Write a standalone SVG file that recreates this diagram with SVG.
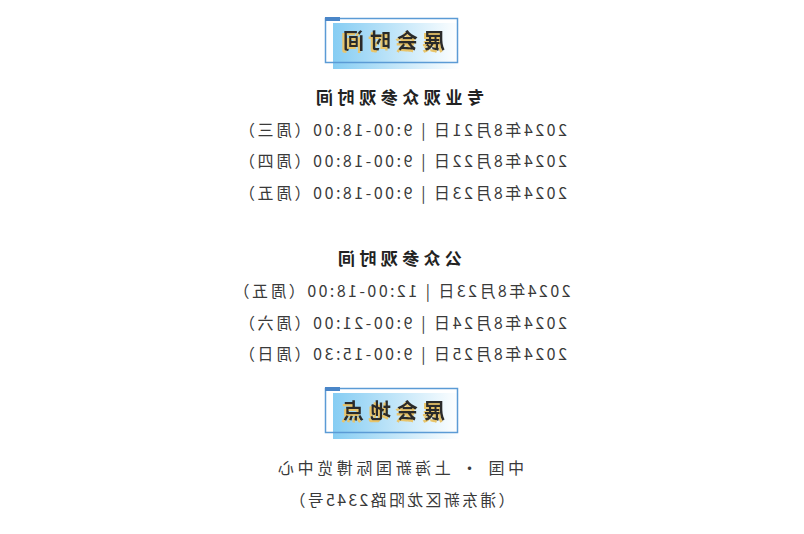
<svg xmlns="http://www.w3.org/2000/svg" width="804" height="534" viewBox="0 0 804 534">
<defs>
<linearGradient id="g" x1="0" x2="1" y1="0" y2="0"><stop offset="0" stop-color="#86cdf3"/><stop offset="1" stop-color="#ffffff"/></linearGradient>
<filter id="ds" x="-10%" y="-20%" width="130%" height="150%"><feDropShadow dx="2" dy="2" stdDeviation="0.3" flood-color="#e8c46a"/></filter>
<style>
text{font-family:"Noto Sans CJK SC","Liberation Sans",sans-serif;text-anchor:middle;fill:#3a3a3a}
.t{font-size:16px}
.h{font-size:17px;font-weight:bold;fill:#222}
.bt{font-size:21px;font-weight:bold;fill:#2a2a2a;filter:url(#ds)}
</style>
</defs>
<rect width="804" height="534" fill="#fff"/>
<g id="box1">
<rect x="333" y="23" width="127" height="46" fill="url(#g)"/>
<rect x="325.5" y="18.5" width="132" height="44" fill="none" stroke="#5b9bd5" stroke-width="1.5"/>
<rect x="325" y="17" width="15" height="4" fill="#4a86c8"/>
<text class="bt" transform="scale(-1,1)" x="-394" y="48" textLength="102" lengthAdjust="spacing">展会时间</text>
</g>
<g id="box2">
<rect x="333" y="393" width="127" height="46" fill="url(#g)"/>
<rect x="325.5" y="388.5" width="132" height="44" fill="none" stroke="#5b9bd5" stroke-width="1.5"/>
<rect x="325" y="387" width="15" height="4" fill="#4a86c8"/>
<text class="bt" transform="scale(-1,1)" x="-394" y="418" textLength="102" lengthAdjust="spacing">展会地点</text>
</g>
<g id="texts" transform="scale(-1,1)">
<text class="h" x="-400" y="104" textLength="168" lengthAdjust="spacing">专业观众参观时间</text>
<text class="t" x="-403" y="136" textLength="328" lengthAdjust="spacing">2024年8月21日 | 9:00-18:00（周三）</text>
<text class="t" x="-403" y="167" textLength="328" lengthAdjust="spacing">2024年8月22日 | 9:00-18:00（周四）</text>
<text class="t" x="-403" y="199" textLength="328" lengthAdjust="spacing">2024年8月23日 | 9:00-18:00（周五）</text>
<text class="h" x="-400" y="265" textLength="124" lengthAdjust="spacing">公众参观时间</text>
<text class="t" x="-402" y="297" textLength="337" lengthAdjust="spacing">2024年8月23日 | 12:00-18:00（周五）</text>
<text class="t" x="-403" y="329" textLength="328" lengthAdjust="spacing">2024年8月24日 | 9:00-21:00（周六）</text>
<text class="t" x="-403" y="360" textLength="328" lengthAdjust="spacing">2024年8月25日 | 9:00-15:30（周日）</text>
<text class="t" x="-401" y="474" textLength="246" lengthAdjust="spacing">中国 • 上海新国际博览中心</text>
<text class="t" x="-402" y="506" textLength="225" lengthAdjust="spacing">（浦东新区龙阳路2345号）</text>
</g>
</svg>
